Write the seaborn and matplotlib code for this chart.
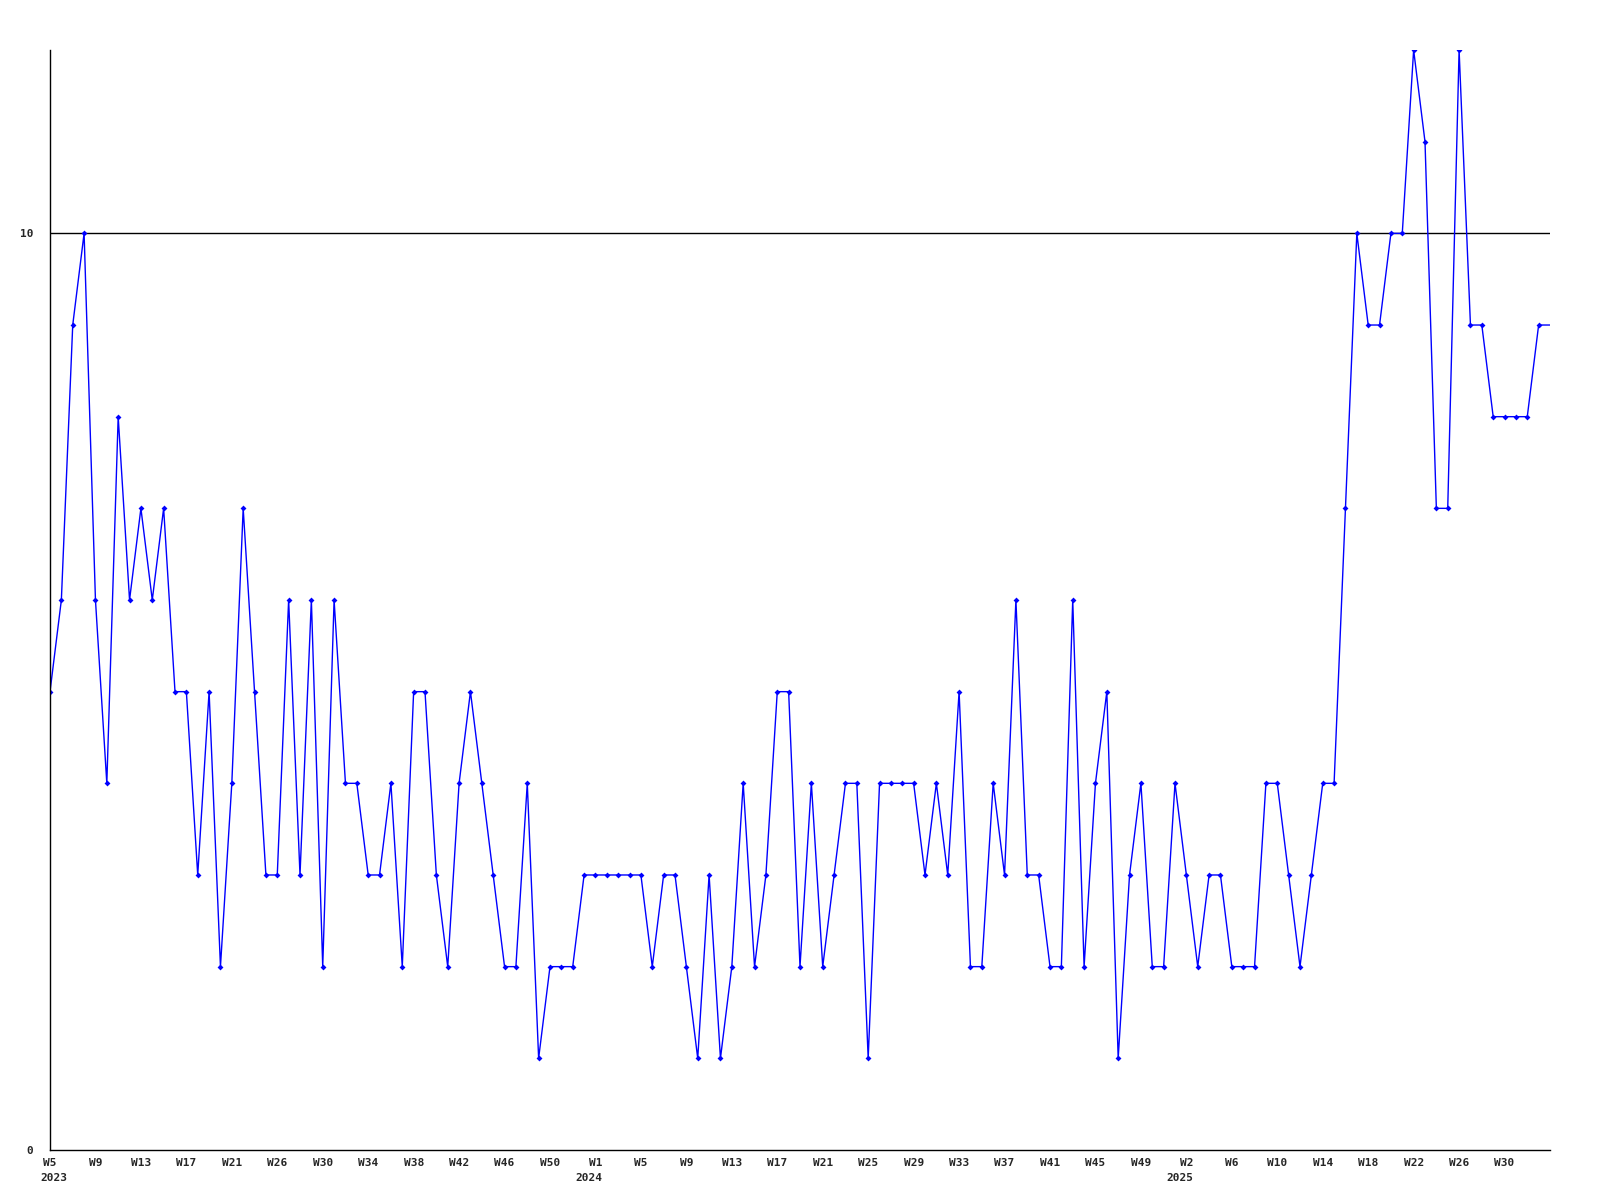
import numpy as np
import pandas as pd
import matplotlib
matplotlib.use("Agg")
import matplotlib.pyplot as plt
import seaborn as sns

# weekly counts, 2023 W5 .. 2025 W33
values = [5, 6, 9, 10, 6, 4, 8, 6, 7, 6,
          7, 5, 5, 3, 5, 2, 4, 7, 5, 3,
          3, 6, 3, 6, 2, 6, 4, 4, 3, 3,
          4, 2, 5, 5, 3, 2, 4, 5, 4, 3,
          2, 2, 4, 1, 2, 2, 2, 3, 3, 3,
          3, 3, 3, 2, 3, 3, 2, 1, 3, 1,
          2, 4, 2, 3, 5, 5, 2, 4, 2, 3,
          4, 4, 1, 4, 4, 4, 4, 3, 4, 3,
          5, 2, 2, 4, 3, 6, 3, 3, 2, 2,
          6, 2, 4, 5, 1, 3, 4, 2, 2, 4,
          3, 2, 3, 3, 2, 2, 2, 4, 4, 3,
          2, 3, 4, 4, 7, 10, 9, 9, 10, 10,
          12, 11, 7, 7, 12, 9, 9, 8, 8, 8,
          8, 9, 9]

week_labels = ["W5", "W9", "W13", "W17", "W21", "W26", "W30", "W34", "W38", "W42",
               "W46", "W50", "W1", "W5", "W9", "W13", "W17", "W21", "W25", "W29",
               "W33", "W37", "W41", "W45", "W49", "W2", "W6", "W10", "W14", "W18",
               "W22", "W26", "W30"]
label_step = 4
years = ["2023", "2024", "2025"]
year_pos = [0.3, 47.4, 99.4]

df = pd.DataFrame({"week": np.arange(len(values)), "count": values})

sns.set_style("white")
plt.rcParams["font.family"] = ["DejaVu Sans Mono"]

fig = plt.figure(figsize=(16, 12), dpi=100)
ax = fig.add_axes([0.03125, 0.0417, 0.9375, 0.9166])

sns.lineplot(data=df, x="week", y="count", ax=ax, color="#0000ff", linewidth=1.0,
             marker="D", markersize=3, markeredgewidth=0, markevery=slice(0, -1))

ax.axhline(10, color="black", linewidth=1.0, zorder=0)

ax.set_xlim(0, len(values) - 1)
ax.set_ylim(0, 12)
ax.set_yticks([0, 10])
ax.set_yticklabels(["0", "10"], fontsize=8, fontweight="bold")
ax.set_xticks(np.arange(0, len(week_labels) * label_step, label_step))
ax.set_xticklabels(week_labels, fontsize=8, fontweight="bold")
ax.tick_params(axis="both", length=0, pad=12)
ax.tick_params(axis="x", pad=6)
ax.set_xlabel("")
ax.set_ylabel("")

for y, p in zip(years, year_pos):
    ax.text(p, -0.25, y, transform=ax.transData, ha="center", va="top",
            fontsize=8, fontweight="bold", clip_on=False)

for s in ["top", "right"]:
    ax.spines[s].set_visible(False)
for s in ["left", "bottom"]:
    ax.spines[s].set_color("black")
    ax.spines[s].set_linewidth(1.0)

plt.savefig("out.png", dpi=100)
